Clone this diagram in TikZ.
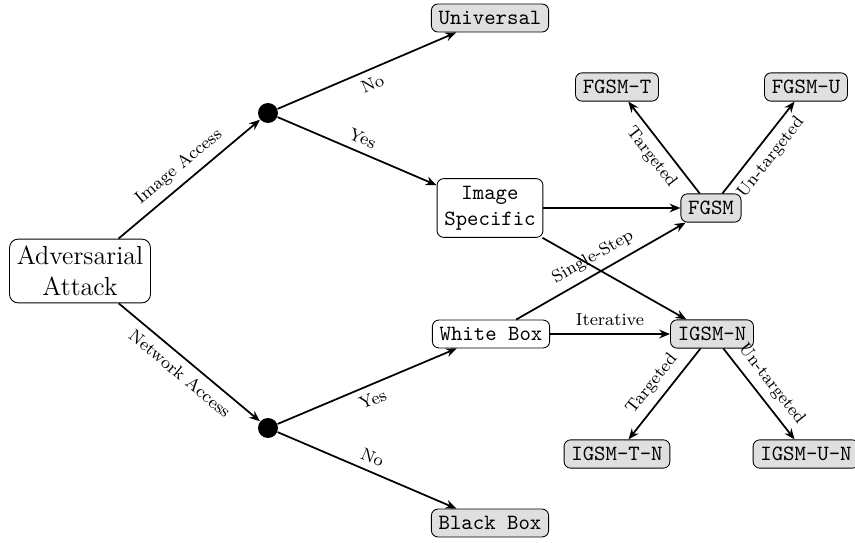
\documentclass[tikz,border=0pt]{standalone}
\usetikzlibrary{arrows.meta}
\begin{document}
\begin{tikzpicture}[x=0.46pt,y=-0.46pt,
  box/.style={draw, rounded corners=3pt, font=\ttfamily, align=center},
  leaf/.style={box, fill=gray!25},
  dotnode/.style={circle, fill=black, inner sep=0pt, minimum size=9.2pt},
  arr/.style={-{Stealth[length=5pt,width=4pt]}, thick},
  lab/.style={font=\footnotesize, sloped}]
\useasboundingbox (0,0) rectangle (855,543);
\node[draw, rounded corners=4pt, align=center, font=\large] (adv) at (80,271) {Adversarial\\Attack};
\node[dotnode] (d1) at (268,113) {};
\node[dotnode] (d2) at (268,428) {};
\node[leaf] (univ) at (490,18) {Universal};
\node[box] (imgs) at (490,208) {Image\\Specific};
\node[box] (wb) at (491,334) {White Box};
\node[leaf] (bb) at (490,523) {Black Box};
\node[leaf] (fgsmt) at (617,87) {FGSM-T};
\node[leaf] (fgsmu) at (806,87) {FGSM-U};
\node[leaf] (fgsm) at (711,208) {FGSM};
\node[leaf] (igsm) at (712,334) {IGSM-N};
\node[leaf] (igsmt) at (617,454) {IGSM-T-N};
\node[leaf] (igsmu) at (806,454) {IGSM-U-N};

\draw[arr] (adv) -- node[lab, above] {Image Access} (d1);
\draw[arr] (adv) -- node[lab, below] {Network Access} (d2);
\draw[arr] (d1) -- node[lab, below] {No} (univ);
\draw[arr] (d1) -- node[lab, above] {Yes} (imgs);
\draw[arr] (d2) -- node[lab, below] {Yes} (wb);
\draw[arr] (d2) -- node[lab, above] {No} (bb);
\draw[arr] (imgs) -- (fgsm);
\draw[arr] (imgs) -- (igsm);
\draw[arr] (wb) -- node[lab, above] {Single-Step} (fgsm);
\draw[arr] (wb) -- node[lab, above] {Iterative} (igsm);
\draw[arr] (fgsm) -- node[lab, below] {Targeted} (fgsmt);
\draw[arr] (fgsm) -- node[lab, below] {Un-targeted} (fgsmu);
\draw[arr] (igsm) -- node[lab, above] {Targeted} (igsmt);
\draw[arr] (igsm) -- node[lab, above] {Un-targeted} (igsmu);
\end{tikzpicture}
\end{document}
